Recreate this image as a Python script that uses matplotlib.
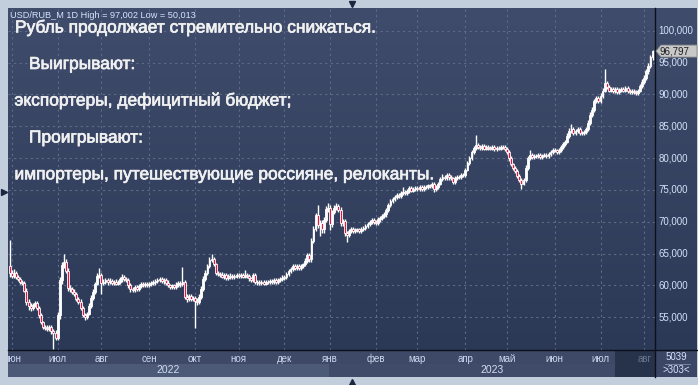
import numpy as np
import pandas as pd
import matplotlib
matplotlib.use("Agg")
import matplotlib.pyplot as plt
import matplotlib.patheffects as pe
from matplotlib.patches import Rectangle, Polygon
from matplotlib.colors import LinearSegmentedColormap
from matplotlib.transforms import blended_transform_factory

plt.rcParams['font.family'] = ['Liberation Sans', 'DejaVu Sans']

# ---------------- data (USD/RUB daily) ----------------
start_date = "2022-05-31"
end_date = "2023-08-07"
first_open = 63.0

close_2022_05 = [62.0]
close_2022_06 = [61.5, 62.0, 61.4, 61.0, 60.6, 60.4, 59.2, 57.4, 56.8, 56.5, 57.0, 57.2, 56.5, 55.3,
                 54.2, 53.5, 53.4, 53.2, 53.5, 52.8, 52.6, 51.8]
close_2022_07 = [55.3, 60.8, 63.2, 63.7, 62.2, 59.6, 59.4, 59.0, 58.6, 57.9, 57.4, 56.4, 55.4, 55.0,
                 55.6, 56.8, 58.0, 59.0, 60.3, 61.5, 61.6]
close_2022_08 = [60.4, 60.6, 60.9, 60.5, 60.7, 60.4, 60.6, 60.3, 60.6, 61.0, 61.3, 61.0, 60.8, 60.0,
                 59.4, 59.3, 59.7, 59.5, 59.9, 60.2, 60.0, 60.3, 60.1]
close_2022_09 = [60.2, 60.4, 60.5, 60.7, 60.9, 61.0, 60.7, 60.9, 60.4, 60.0, 59.8, 60.0, 59.7, 60.1,
                 60.4, 60.2, 60.5, 58.2, 57.8, 58.3, 57.9, 58.0]
close_2022_10 = [57.6, 57.4, 58.2, 59.5, 61.0, 62.0, 63.0, 64.0, 64.2, 63.3, 62.0, 61.8, 61.7, 61.4,
                 61.6, 61.2, 61.5, 61.3, 61.5, 61.4, 61.6]
close_2022_11 = [61.5, 61.6, 61.4, 61.6, 61.5, 61.1, 60.9, 61.6, 60.6, 60.5, 60.4, 60.6, 60.3, 60.5,
                 60.6, 60.7, 60.5, 60.8, 60.6, 60.8, 61.0, 61.2]
close_2022_12 = [61.3, 61.8, 62.3, 62.6, 63.0, 62.7, 63.0, 62.8, 63.1, 63.3, 63.9, 64.8, 64.1, 67.0,
                 68.9, 71.0, 69.5, 69.8, 68.8, 70.3, 72.0, 72.2]
close_2023_01 = [69.6, 71.5, 72.2, 72.4, 71.9, 69.8, 70.1, 68.2, 68.0, 68.6, 68.9, 68.5, 68.7, 68.8,
                 68.6, 68.9, 69.0, 69.4, 69.6, 70.0, 70.3, 70.0]
close_2023_02 = [69.8, 70.4, 70.6, 70.9, 71.2, 71.8, 72.6, 73.2, 73.6, 73.9, 74.2, 74.0, 74.5, 74.7,
                 74.5, 74.8, 75.3, 74.9, 75.1, 75.3]
close_2023_03 = [75.1, 75.4, 75.2, 75.5, 75.4, 75.7, 75.6, 75.9, 75.1, 75.4, 76.0, 76.7, 77.1, 76.9,
                 77.3, 77.0, 76.8, 76.3, 76.9, 77.1, 77.0, 77.3, 77.4]
close_2023_04 = [78.2, 79.2, 80.0, 81.0, 81.6, 82.0, 81.8, 81.6, 81.9, 81.5, 81.7, 81.6, 81.5, 81.8,
                 81.4, 81.6, 81.5, 81.7, 81.8, 81.4]
close_2023_05 = [81.0, 80.0, 79.0, 78.4, 78.0, 77.2, 76.5, 76.0, 76.6, 78.5, 80.0, 80.5, 80.2, 80.4,
                 80.3, 80.5, 80.2, 80.4, 80.5, 80.3, 80.6, 81.0, 81.3]
close_2023_06 = [81.2, 80.9, 81.3, 81.8, 82.2, 82.6, 83.5, 84.3, 84.6, 84.0, 84.3, 84.5, 84.0, 83.9,
                 84.1, 84.6, 85.5, 86.8, 87.6, 88.9, 89.4, 88.9]
close_2023_07 = [89.8, 90.6, 91.8, 91.2, 90.6, 90.8, 90.5, 90.9, 90.4, 90.7, 90.9, 90.6, 91.0, 90.5,
                 90.3, 90.6, 90.4, 90.2, 90.6, 91.3, 92.0]
close_2023_08 = [92.6, 93.6, 94.5, 95.8, 96.797]

# upper / lower shadow lengths (rub) above max(open, close) and below min(open, close)
upw_2022_05 = [4.2]
dnw_2022_05 = [0.7]
upw_2022_06 = [0.4, 0.6, 0.3, 0.3, 0.4, 0.3, 0.3, 0.4, 0.5, 0.4, 0.3, 0.4, 0.3, 0.3, 0.4, 0.3, 0.3,
               0.4, 0.3, 0.3, 0.3, 0.4]
dnw_2022_06 = [0.3, 0.3, 0.4, 0.3, 0.3, 0.4, 0.3, 0.5, 0.6, 0.5, 0.3, 0.4, 0.3, 0.4, 0.3, 0.3, 0.4,
               0.3, 0.3, 0.4, 2.587, 0.3]
upw_2022_07 = [0.5, 0.6, 0.5, 1.3, 0.4, 0.5, 0.4, 0.3, 0.4, 0.3, 0.3, 0.4, 0.3, 0.3, 0.3, 0.4, 0.5,
               0.4, 0.3, 0.4, 1.2]
dnw_2022_07 = [0.4, 0.5, 0.6, 0.4, 0.3, 0.5, 0.4, 0.3, 0.3, 0.4, 0.3, 0.3, 0.4, 0.4, 0.3, 0.3, 0.4,
               0.3, 0.4, 0.3, 0.3]
upw_2022_08 = [0.3, 0.4, 0.3, 0.3, 0.4, 0.3, 0.3, 0.4, 0.3, 0.4, 0.5, 0.3, 0.3, 0.3, 0.4, 0.3, 0.3,
               0.4, 0.3, 0.3, 0.4, 0.3, 0.3]
dnw_2022_08 = [1.8, 0.3, 0.3, 0.4, 0.3, 0.3, 0.4, 0.3, 0.3, 0.3, 0.4, 0.3, 0.3, 0.4, 0.5, 0.4, 0.3,
               0.3, 0.4, 0.3, 0.3, 0.3, 0.4]
upw_2022_09 = [0.3, 0.3, 0.4, 0.3, 0.3, 0.4, 0.3, 0.3, 0.3, 0.4, 0.3, 0.3, 0.3, 0.4, 0.3, 0.3, 2.4,
               0.3, 0.4, 0.3, 0.3, 0.4]
dnw_2022_09 = [0.3, 0.3, 0.3, 0.4, 0.3, 0.3, 0.3, 0.4, 0.3, 0.3, 0.4, 0.3, 0.3, 0.3, 0.3, 0.4, 0.3,
               0.4, 0.4, 0.3, 0.4, 0.3]
upw_2022_10 = [0.3, 0.4, 0.4, 0.4, 0.5, 0.4, 0.4, 0.4, 0.8, 0.3, 0.3, 0.3, 0.3, 0.4, 0.3, 0.3, 0.3,
               0.4, 0.3, 0.3, 0.3]
dnw_2022_10 = [4.3, 0.4, 0.3, 0.4, 0.4, 0.3, 0.4, 0.3, 0.3, 0.3, 0.4, 0.3, 0.3, 0.3, 0.4, 0.3, 0.3,
               0.3, 0.3, 0.4, 0.3]
upw_2022_11 = [0.3, 0.3, 0.3, 0.8, 0.3, 0.3, 0.3, 0.4, 0.3, 0.3, 0.3, 0.3, 0.3, 0.3, 0.3, 0.3, 0.3,
               0.3, 0.3, 0.3, 0.3, 0.4]
dnw_2022_11 = [0.3, 0.3, 0.3, 0.3, 0.3, 0.4, 0.3, 0.3, 0.3, 0.4, 0.3, 0.3, 0.3, 0.3, 0.3, 0.3, 0.3,
               0.3, 0.3, 0.3, 0.3, 0.3]
upw_2022_12 = [0.3, 0.3, 0.3, 0.3, 0.4, 0.3, 0.3, 0.3, 0.3, 0.3, 0.4, 0.3, 0.3, 0.4, 0.4, 0.4, 1.7,
               0.5, 0.4, 0.4, 0.4, 0.7]
dnw_2022_12 = [0.3, 0.3, 0.3, 0.3, 0.3, 0.3, 0.3, 0.3, 0.3, 0.3, 0.3, 0.3, 0.4, 0.4, 0.4, 0.4, 0.4,
               1.7, 0.5, 0.5, 0.4, 0.4]
upw_2023_01 = [0.4, 0.4, 0.4, 0.5, 0.4, 0.4, 0.4, 0.4, 0.3, 0.3, 0.3, 0.3, 0.3, 0.3, 0.3, 0.3, 0.3,
               0.3, 0.3, 0.3, 0.3, 0.3]
dnw_2023_01 = [0.9, 0.4, 0.3, 0.3, 0.3, 0.4, 0.4, 0.4, 1.1, 0.4, 0.3, 0.3, 0.3, 0.3, 0.3, 0.3, 0.3,
               0.3, 0.3, 0.3, 0.3, 0.3]
upw_2023_02 = [0.3, 0.3, 0.3, 0.3, 0.3, 0.3, 0.3, 0.3, 0.3, 0.3, 0.3, 0.3, 0.3, 0.8, 0.3, 0.3, 0.3,
               0.3, 0.3, 0.3]
dnw_2023_02 = [0.3, 0.3, 0.4, 0.3, 0.3, 0.4, 0.3, 0.3, 0.3, 0.3, 0.3, 0.3, 0.3, 0.3, 0.3, 0.3, 0.3,
               0.3, 0.3, 0.3]
upw_2023_03 = [0.3, 0.3, 0.3, 0.3, 0.3, 0.3, 0.3, 0.3, 0.3, 0.3, 0.3, 0.3, 0.4, 0.3, 0.3, 0.3, 0.3,
               0.3, 0.3, 0.3, 0.3, 0.3, 0.3]
dnw_2023_03 = [0.3, 0.3, 0.3, 0.3, 0.3, 0.3, 0.3, 0.3, 0.4, 0.3, 0.3, 0.3, 0.3, 0.3, 0.3, 0.4, 0.3,
               0.3, 0.3, 0.3, 0.3, 0.3, 0.3]
upw_2023_04 = [0.3, 0.3, 0.3, 0.3, 0.3, 1.6, 0.3, 0.3, 0.3, 0.3, 0.3, 0.3, 0.3, 0.3, 0.3, 0.3, 0.3,
               0.3, 0.3, 0.3]
dnw_2023_04 = [0.3, 0.3, 0.3, 0.3, 0.3, 0.3, 0.3, 0.3, 0.3, 0.3, 0.3, 0.3, 0.3, 0.3, 0.3, 0.3, 0.3,
               0.3, 0.3, 0.3]
upw_2023_05 = [0.3, 0.3, 0.3, 0.3, 0.3, 0.3, 0.3, 0.3, 0.3, 0.4, 0.4, 0.7, 0.3, 0.3, 0.3, 0.3, 0.3,
               0.3, 0.3, 0.3, 0.3, 0.3, 0.3]
dnw_2023_05 = [0.3, 0.4, 0.3, 0.3, 0.3, 0.3, 0.3, 0.8, 0.3, 0.3, 0.3, 0.3, 0.3, 0.3, 0.3, 0.3, 0.3,
               0.3, 0.3, 0.3, 0.3, 0.3, 0.3]
upw_2023_06 = [0.3, 0.3, 0.3, 0.3, 0.3, 0.3, 0.4, 0.4, 0.8, 0.3, 0.3, 0.3, 0.3, 0.3, 0.3, 0.3, 0.4,
               0.4, 0.4, 0.4, 0.4, 0.3]
dnw_2023_06 = [0.3, 0.3, 0.3, 0.3, 0.3, 0.3, 0.3, 0.3, 0.3, 0.3, 0.3, 0.3, 0.3, 0.3, 0.3, 0.3, 0.3,
               0.3, 0.3, 0.3, 0.3, 0.3]
upw_2023_07 = [0.4, 0.4, 2.2, 0.3, 0.3, 0.3, 0.3, 0.3, 0.3, 0.3, 0.3, 0.3, 0.3, 0.3, 0.3, 0.3, 0.3,
               0.3, 0.3, 0.4, 0.4]
dnw_2023_07 = [0.3, 0.3, 0.3, 0.3, 0.3, 0.3, 0.3, 0.3, 0.3, 0.3, 0.3, 0.3, 0.3, 0.3, 0.3, 0.3, 0.3,
               0.3, 0.3, 0.3, 0.3]
upw_2023_08 = [0.4, 0.4, 0.4, 0.4, 0.205]
dnw_2023_08 = [0.3, 0.3, 0.4, 0.4, 0.4]

month_labels = ["июн", "июл", "авг", "сен", "окт", "ноя", "дек", "янв", "фев", "мар", "апр",
                "май", "июн", "июл", "авг"]
y_ticks = [55, 60, 65, 70, 75, 80, 85, 90, 95, 100]
title_text = "Рубль продолжает стремительно снижаться."
lines_text = ["   Выигрывают:", "экспортеры, дефицитный бюджет;", "   Проигрывают:",
              "импортеры, путешествующие россияне, релоканты."]
box_top, box_bottom = "5039", ">303<"

# ---------------- assemble ----------------
months = ["2022_05", "2022_06", "2022_07", "2022_08", "2022_09", "2022_10", "2022_11", "2022_12",
          "2023_01", "2023_02", "2023_03", "2023_04", "2023_05", "2023_06", "2023_07", "2023_08"]
g = globals()
closes = np.array(sum([g["close_" + m] for m in months], []), dtype=float)
upw = np.array(sum([g["upw_" + m] for m in months], []), dtype=float)
dnw = np.array(sum([g["dnw_" + m] for m in months], []), dtype=float)
dates = pd.bdate_range(start_date, end_date)
n = len(closes)
assert len(dates) == n == len(upw) == len(dnw), (len(dates), n, len(upw), len(dnw))
opens = np.concatenate([[first_open], closes[:-1]])
highs = np.maximum(opens, closes) + upw
lows = np.minimum(opens, closes) - dnw
xs = np.arange(n)

per = dates.to_period("M")
month_start_idx = [i for i in range(1, n) if per[i] != per[i - 1]]
year_start_idx = [i for i in range(1, n) if dates[i].year != dates[i - 1].year]

# ---------------- figure ----------------
W, H = 698, 385
fig = plt.figure(figsize=(W / 100, H / 100), dpi=100)
fig.patch.set_facecolor("#c3cedc")


def rect(x0, y0, x1, y1):
    return [x0 / W, 1 - y1 / H, (x1 - x0) / W, (y1 - y0) / H]


def gradient(a, top, bottom):
    cmap = LinearSegmentedColormap.from_list("g", [top, bottom])
    a.imshow(np.linspace(0, 1, 256).reshape(-1, 1), cmap=cmap, extent=[0, 1, 0, 1],
             transform=a.transAxes, aspect="auto", zorder=0, interpolation="bilinear")


ax = fig.add_axes(rect(8, 8, 655, 350))
axr = fig.add_axes(rect(655, 8, 697, 350))
axd = fig.add_axes(rect(8, 350, 655, 377))
axb = fig.add_axes(rect(655, 350, 697, 377))

gradient(ax, "#404c6b", "#2b3856")
gradient(axr, "#404c6b", "#2b3856")

XL = (-0.87, 310.2)
YL = (49.87, 103.56)

# grid
for yv in y_ticks:
    ax.axhline(yv, color="#5d6b8b", lw=0.8, ls=(0, (2, 3)), zorder=1)
for i in month_start_idx:
    ax.axvline(i, color="#5d6b8b", lw=0.8, ls=(0, (2, 3)), zorder=1)

# candles
red = "#e3163f"
up = closes >= opens
ax.vlines(xs, lows, highs, color="white", lw=1.0, zorder=3)
ax.bar(xs[up], (closes - opens)[up], bottom=opens[up], width=0.85, color="white",
       edgecolor="white", lw=0.6, zorder=4)
ax.bar(xs[~up], (closes - opens)[~up], bottom=opens[~up], width=0.95, color=red,
       edgecolor="white", lw=0.6, zorder=4)

ax.set_xlim(*XL)
ax.set_ylim(*YL)
ax.set_xticks([])
ax.set_yticks([])
for s in ax.spines.values():
    s.set_visible(False)

# right price axis
axr.set_ylim(*YL)
axr.set_xlim(0, 1)
axr.axis("off")
for yv in y_ticks:
    axr.text(0.08, yv, f"{yv:.3f}".replace(".", ","), color="#d3e2fb", fontsize=7,
             va="center", ha="left", transform=blended_transform_factory(axr.transAxes, axr.transData))

# header
fig.text(10 / W, 1 - 15.5 / H,
         f"USD/RUB_M 1D High = {highs.max():.3f} Low = {lows.min():.3f}".replace(".", ","),
         color="#d6e4ff", fontsize=6.6, va="center", ha="left")

# annotation text
fx = [pe.withStroke(linewidth=0.5, foreground="#f0f0f0")]
fig.text(15 / W, 1 - 32.5 / H, title_text, color="#f0f0f0", fontsize=12.5, va="baseline",
         ha="left", path_effects=fx)
bases = [69, 105.5, 142.5, 179.3]
for t, b in zip(lines_text, bases):
    fig.text(14.5 / W, 1 - b / H, t, color="#f0f0f0", fontsize=12.5, va="baseline", ha="left",
             path_effects=fx)

# last price label
disp = ax.transData.transform((0, closes[-1]))
yf = fig.transFigure.inverted().transform(disp)[1]
hh = 6.0 / H
poly = Polygon([[656 / W, yf], [661 / W, yf + hh], [697 / W, yf + hh], [697 / W, yf - hh],
                [661 / W, yf - hh]], closed=True, facecolor="#c8c8c8", edgecolor="#8a8a8a",
               lw=0.6, transform=fig.transFigure, zorder=10)
fig.patches.append(poly)
fig.text(660 / W, yf, f"{closes[-1]:.3f}".replace(".", ","), color="#1e1e1e", fontsize=7,
         va="center", ha="left", zorder=11)

# date panel
axd.set_xlim(*XL)
axd.set_ylim(0, 1)
axd.set_facecolor("#3d4966")
axd.set_xticks([])
axd.set_yticks([])
for s in axd.spines.values():
    s.set_visible(False)
bt = blended_transform_factory(axd.transData, axd.transAxes)
ys = year_start_idx[0] - 0.5
axd.add_patch(Rectangle((XL[0], 0), ys - XL[0], 0.5, facecolor="#4c5a78", edgecolor="none",
                        transform=bt, zorder=1))
axd.add_patch(Rectangle((ys, 0), XL[1] - ys, 0.5, facecolor="#3f4b69", edgecolor="none",
                        transform=bt, zorder=1))
axd.add_patch(Rectangle((0.938, 0), 0.062, 1, facecolor="#27324b", edgecolor="none",
                        transform=axd.transAxes, zorder=2))
for k, (i, lab) in enumerate(zip(month_start_idx, month_labels)):
    col = "#68768f" if k == len(month_start_idx) - 1 else "#cbd8ef"
    axd.text(i, 0.68, lab, color=col, fontsize=7, ha="center", va="center",
             transform=bt, clip_on=True, zorder=3)
axd.text((XL[0] + ys) / 2, 0.26, str(dates[0].year), color="#d3def2", fontsize=7.5,
         ha="center", va="center", transform=bt, zorder=3)
axd.text((ys + XL[1]) / 2, 0.26, str(dates[-1].year), color="#d3def2", fontsize=7.5,
         ha="center", va="center", transform=bt, zorder=3)

# bottom-right box
axb.set_facecolor("#3a4664")
axb.set_xticks([])
axb.set_yticks([])
for s in axb.spines.values():
    s.set_visible(False)
axb.text(0.5, 0.74, box_top, color="#d3e2fb", fontsize=7, ha="center", va="center",
         transform=axb.transAxes)
axb.text(0.5, 0.25, box_bottom, color="#d3e2fb", fontsize=7, ha="center", va="center",
         transform=axb.transAxes)
axb.plot([0.24, 0.84], [0.5, 0.5], color="#8090b0", lw=0.6, transform=axb.transAxes)

# separating black lines
fig.add_artist(plt.Line2D([655 / W, 655 / W], [1 - 8 / H, 1 - 377 / H], color="#0c1018", lw=1.0))
fig.add_artist(plt.Line2D([8 / W, 697 / W], [1 - 350 / H, 1 - 350 / H], color="#0c1018", lw=1.0))

# small navigation triangles
for (px, py, m) in [(352, 4, "v"), (352, 382, "^"), (3.5, 192, ">")]:
    fig.add_artist(plt.Line2D([px / W], [1 - py / H], marker=m, color="#1b2640", markersize=5,
                              linestyle="none"))

fig.savefig("out.png", dpi=100, facecolor=fig.get_facecolor())
